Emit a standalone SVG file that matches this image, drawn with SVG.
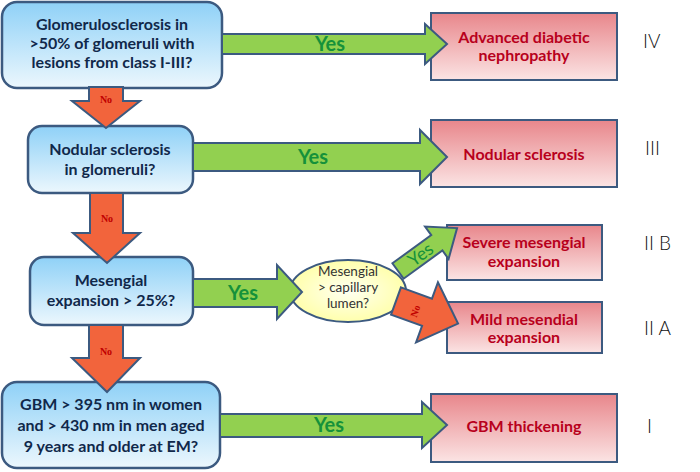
<svg xmlns="http://www.w3.org/2000/svg" width="700" height="472" viewBox="0 0 700 472">
<defs>
  <linearGradient id="gBlue" x1="0" y1="0" x2="0" y2="1">
    <stop offset="0" stop-color="#8fd1f7"/>
    <stop offset="1" stop-color="#ecf7fd"/>
  </linearGradient>
  <linearGradient id="gRed" x1="0" y1="0" x2="0" y2="1">
    <stop offset="0" stop-color="#e8868b"/>
    <stop offset="1" stop-color="#fbe4e4"/>
  </linearGradient>
  <radialGradient id="gYel" cx="0.5" cy="0.5" r="0.6">
    <stop offset="0" stop-color="#fffff2"/>
    <stop offset="1" stop-color="#ffff9e"/>
  </radialGradient>
</defs>
<style>
  .blue { fill: url(#gBlue); stroke: #3c5a80; stroke-width: 2.5; }
  .red { fill: url(#gRed); stroke: #3c5a80; stroke-width: 2; }
  .ell { fill: url(#gYel); stroke: #3c5a80; stroke-width: 2; }
  .ga { fill: #92d050; stroke: #3c5a80; stroke-width: 2; stroke-linejoin: miter; }
  .ra { fill: #f2643c; stroke: #3c5a80; stroke-width: 2; stroke-linejoin: miter; }
  .bt { font-family: Lato, "Liberation Sans", sans-serif; font-weight: bold; font-size: 16px; fill: #10284a; text-anchor: middle; }
  .rt { font-family: Lato, "Liberation Sans", sans-serif; font-weight: bold; font-size: 16px; fill: #b8001c; text-anchor: middle; }
  .et { font-family: Lato, "Liberation Sans", sans-serif; font-size: 13.5px; fill: #333333; text-anchor: middle; }
  .yes { font-family: Lato, "Liberation Sans", sans-serif; font-weight: bold; font-size: 20px; fill: #15913a; text-anchor: middle; }
  .no { font-family: "Liberation Serif", serif; font-weight: bold; font-size: 10px; fill: #c00000; text-anchor: middle; }
  .cls { font-family: Lato, "Liberation Sans", sans-serif; font-weight: 300; font-size: 19px; fill: #111111; }
</style>

<g id="node-glomerulosclerosis">
  <rect class="blue" x="2" y="2" width="220" height="86" rx="15"/>
  <text class="bt" x="112" y="30">Glomerulosclerosis in</text>
  <text class="bt" x="112" y="49">&gt;50% of glomeruli with</text>
  <text class="bt" x="112" y="68">lesions from class I-III?</text>
</g>
<g id="node-nodular">
  <rect class="blue" x="28" y="126" width="165" height="67" rx="14"/>
  <text class="bt" x="110" y="155">Nodular sclerosis</text>
  <text class="bt" x="110" y="175">in glomeruli?</text>
</g>
<g id="node-mesangial">
  <rect class="blue" x="30" y="257" width="163" height="68" rx="14"/>
  <text class="bt" x="111" y="286">Mesengial</text>
  <text class="bt" x="111" y="306">expansion &gt; 25%?</text>
</g>
<g id="node-gbm">
  <rect class="blue" x="2" y="382" width="218" height="86" rx="15"/>
  <text class="bt" x="111" y="410">GBM &gt; 395 nm in women</text>
  <text class="bt" x="111" y="431">and &gt; 430 nm in men aged</text>
  <text class="bt" x="111" y="452">9 years and older at EM?</text>
</g>
<g id="node-capillary">
  <ellipse class="ell" cx="348" cy="291" rx="58" ry="31"/>
  <text class="et" x="348" y="276">Mesengial</text>
  <text class="et" x="348" y="292">&gt; capillary</text>
  <text class="et" x="348" y="308">lumen?</text>
</g>
<g id="node-advanced">
  <rect class="red" x="431" y="13" width="186" height="67"/>
  <text class="rt" x="524" y="43">Advanced diabetic</text>
  <text class="rt" x="524" y="61">nephropathy</text>
</g>
<g id="node-nodular-sclerosis">
  <rect class="red" x="431" y="120" width="186" height="67"/>
  <text class="rt" x="524" y="160">Nodular sclerosis</text>
</g>
<g id="node-severe">
  <rect class="red" x="447" y="225" width="155" height="55"/>
  <text class="rt" x="524" y="248">Severe mesengial</text>
  <text class="rt" x="524" y="267">expansion</text>
</g>
<g id="node-mild">
  <rect class="red" x="447" y="302" width="155" height="51"/>
  <text class="rt" x="524" y="325">Mild mesendial</text>
  <text class="rt" x="524" y="343">expansion</text>
</g>
<g id="node-gbm-thickening">
  <rect class="red" x="431" y="394" width="186" height="68"/>
  <text class="rt" x="524" y="432">GBM thickening</text>
</g>

<g id="class-labels">
  <text class="cls" x="643" y="48">IV</text>
  <text class="cls" x="645" y="155">III</text>
  <text class="cls" x="644" y="250">II B</text>
  <text class="cls" x="644" y="335">II A</text>
  <text class="cls" x="647" y="433">I</text>
</g>

<g id="connectors">
  <polygon class="ga" points="222,34 425,34 425,24 447,44 425,64 425,54 222,54"/>
  <text class="yes" x="330" y="51">Yes</text>
  <polygon class="ga" points="193,143 420,143 420,130 447,157 420,184 420,171 193,171"/>
  <text class="yes" x="313" y="164">Yes</text>
  <polygon class="ga" points="193,279 277,279 277,265 302,292 277,319 277,307 193,307"/>
  <text class="yes" x="243" y="300">Yes</text>
  <polygon class="ga" points="220,414 422,414 422,402 447,425 422,448 422,437 220,437"/>
  <text class="yes" x="329" y="432">Yes</text>
  <polygon class="ra" points="89,87 123,87 123,101 140,101 106,128 72,101 89,101"/>
  <text class="no" x="106" y="103">No</text>
  <polygon class="ra" points="90,193 123,193 123,233 140,233 107,263 73,233 90,233"/>
  <text class="no" x="107" y="222">No</text>
  <polygon class="ra" points="89,325 123,325 123,358 140,358 107,392 72,358 89,358"/>
  <text class="no" x="106" y="355">No</text>
  <g transform="translate(398,271) rotate(-36)">
    <polygon class="ga" points="0,-9.5 48,-9.5 48,-20 73,0 48,20 48,9.5 0,9.5"/>
    <text x="28" y="6" style="font-family: Lato, 'Liberation Sans', sans-serif; font-size: 18px; fill: #15913a; text-anchor: middle;">Yes</text>
  </g>
  <g transform="translate(396,301) rotate(20)">
    <polygon class="ra" points="0,-14.5 33,-14.5 33,-32 66,0 33,32 33,14.5 0,14.5"/>
    <text class="no" transform="translate(22,3) rotate(-90)" x="0" y="3">No</text>
  </g>
</g>
</svg>
